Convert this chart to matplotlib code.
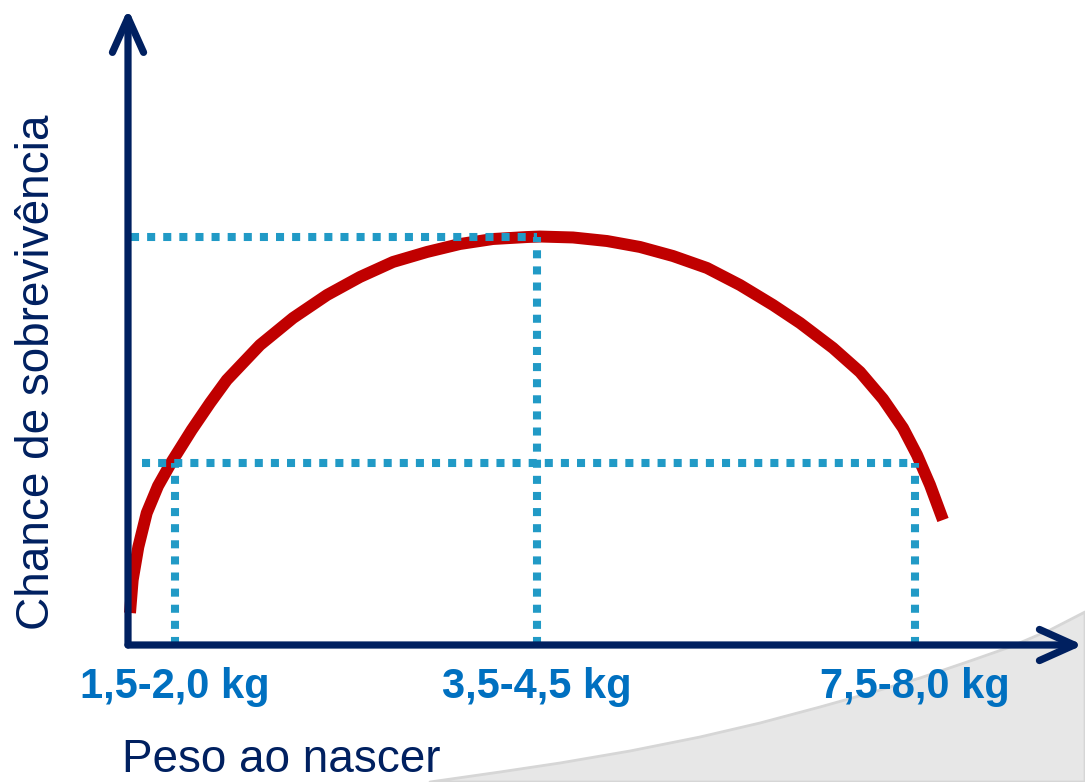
import numpy as np
import matplotlib.pyplot as plt
from matplotlib.patches import Polygon

plt.rcParams['font.family'] = ['Liberation Sans', 'DejaVu Sans']

# eixo x: posicao relativa do peso (0..10), eixo y: chance de sobrevivencia (0..10)
curve_x = [0.021, 0.049, 0.108, 0.196, 0.314, 0.450, 0.667, 0.859, 1.034, 1.382,
           1.728, 2.084, 2.429, 2.775, 3.131, 3.476, 3.822, 4.178, 4.314, 4.660,
           5.016, 5.361, 5.707, 6.063, 6.408, 6.754, 7.037, 7.382, 7.665, 7.906,
           8.115, 8.262, 8.398, 8.534]
curve_y = [0.506, 1.027, 1.548, 2.085, 2.512, 2.875, 3.397, 3.823, 4.186, 4.739,
           5.166, 5.529, 5.814, 6.051, 6.209, 6.335, 6.414, 6.445, 6.453, 6.438,
           6.382, 6.288, 6.145, 5.956, 5.687, 5.371, 5.087, 4.692, 4.313, 3.886,
           3.428, 3.002, 2.528, 1.975]

tick_pos = [0.49, 4.28, 8.24]
tick_labels = ['1,5-2,0 kg', '3,5-4,5 kg', '7,5-8,0 kg']
peak_y = 6.45
low_y = 2.875

# faixa cinza decorativa (pixels da figura)
swoosh_x = [430, 500, 560, 630, 700, 760, 820, 870, 920, 970, 1010, 1050, 1085, 1085]
swoosh_y = [782, 772, 763, 751, 737, 723, 707, 693, 678, 661, 647, 630, 612, 782]

navy = '#002060'
blue = '#0070C0'
dot_blue = '#219AC6'
red = '#C00000'

fig = plt.figure(figsize=(10.85, 7.82), dpi=100)

# fundo
bg = fig.add_axes([0, 0, 1, 1], zorder=0)
bg.set_xlim(0, 1085)
bg.set_ylim(782, 0)
bg.axis('off')
bg.add_patch(Polygon(list(zip(swoosh_x, swoosh_y)), closed=True,
                     facecolor='#E7E7E7', edgecolor='#D6D6D6', lw=2,
                     joinstyle='round'))

ax = fig.add_axes([128 / 1085, 137 / 782, 955 / 1085, 633 / 782], zorder=1)
ax.set_xlim(0, 10)
ax.set_ylim(0, 10)
ax.patch.set_alpha(0)
for s in ax.spines.values():
    s.set_visible(False)

# curva
ax.plot(curve_x, curve_y, color=red, lw=8.6, solid_capstyle='butt',
        solid_joinstyle='round', clip_on=False, zorder=2)

# linhas pontilhadas
dot = dict(color=dot_blue, lw=5.8, linestyle=(0, (1, 1)), dash_capstyle='butt',
           clip_on=False, zorder=3)
ax.plot([0.03, tick_pos[1]], [peak_y, peak_y], **dot)
ax.plot([0.15, tick_pos[2]], [low_y, low_y], **dot)
ax.plot([tick_pos[0], tick_pos[0]], [0, low_y], **dot)
ax.plot([tick_pos[1], tick_pos[1]], [0, peak_y], **dot)
ax.plot([tick_pos[2], tick_pos[2]], [0, low_y], **dot)

# eixos com setas
arrow = dict(arrowstyle='->,head_length=1.25,head_width=0.56', color=navy, lw=5.2,
             shrinkA=0, shrinkB=0, mutation_scale=20, capstyle='round',
             joinstyle='round')
ax.annotate('', xy=(10, 0), xytext=(0, 0), arrowprops=arrow,
            annotation_clip=False, zorder=4)
ax.annotate('', xy=(0, 10.05), xytext=(0, 0), arrowprops=arrow,
            annotation_clip=False, zorder=4)

ax.set_xticks(tick_pos, tick_labels, fontsize=30, fontweight='bold', color=blue)
ax.set_yticks([])
ax.tick_params(axis='x', length=0, pad=16)

fig.text(37.5 / 1085, 1 - 372 / 782, 'Chance de sobrevivência', rotation=90,
         ha='center', va='center', fontsize=33, color=navy)
fig.text(122 / 1085, 1 - 772 / 782, 'Peso ao nascer', ha='left', va='baseline',
         fontsize=33, color=navy)

fig.savefig('out.png', dpi=100)
